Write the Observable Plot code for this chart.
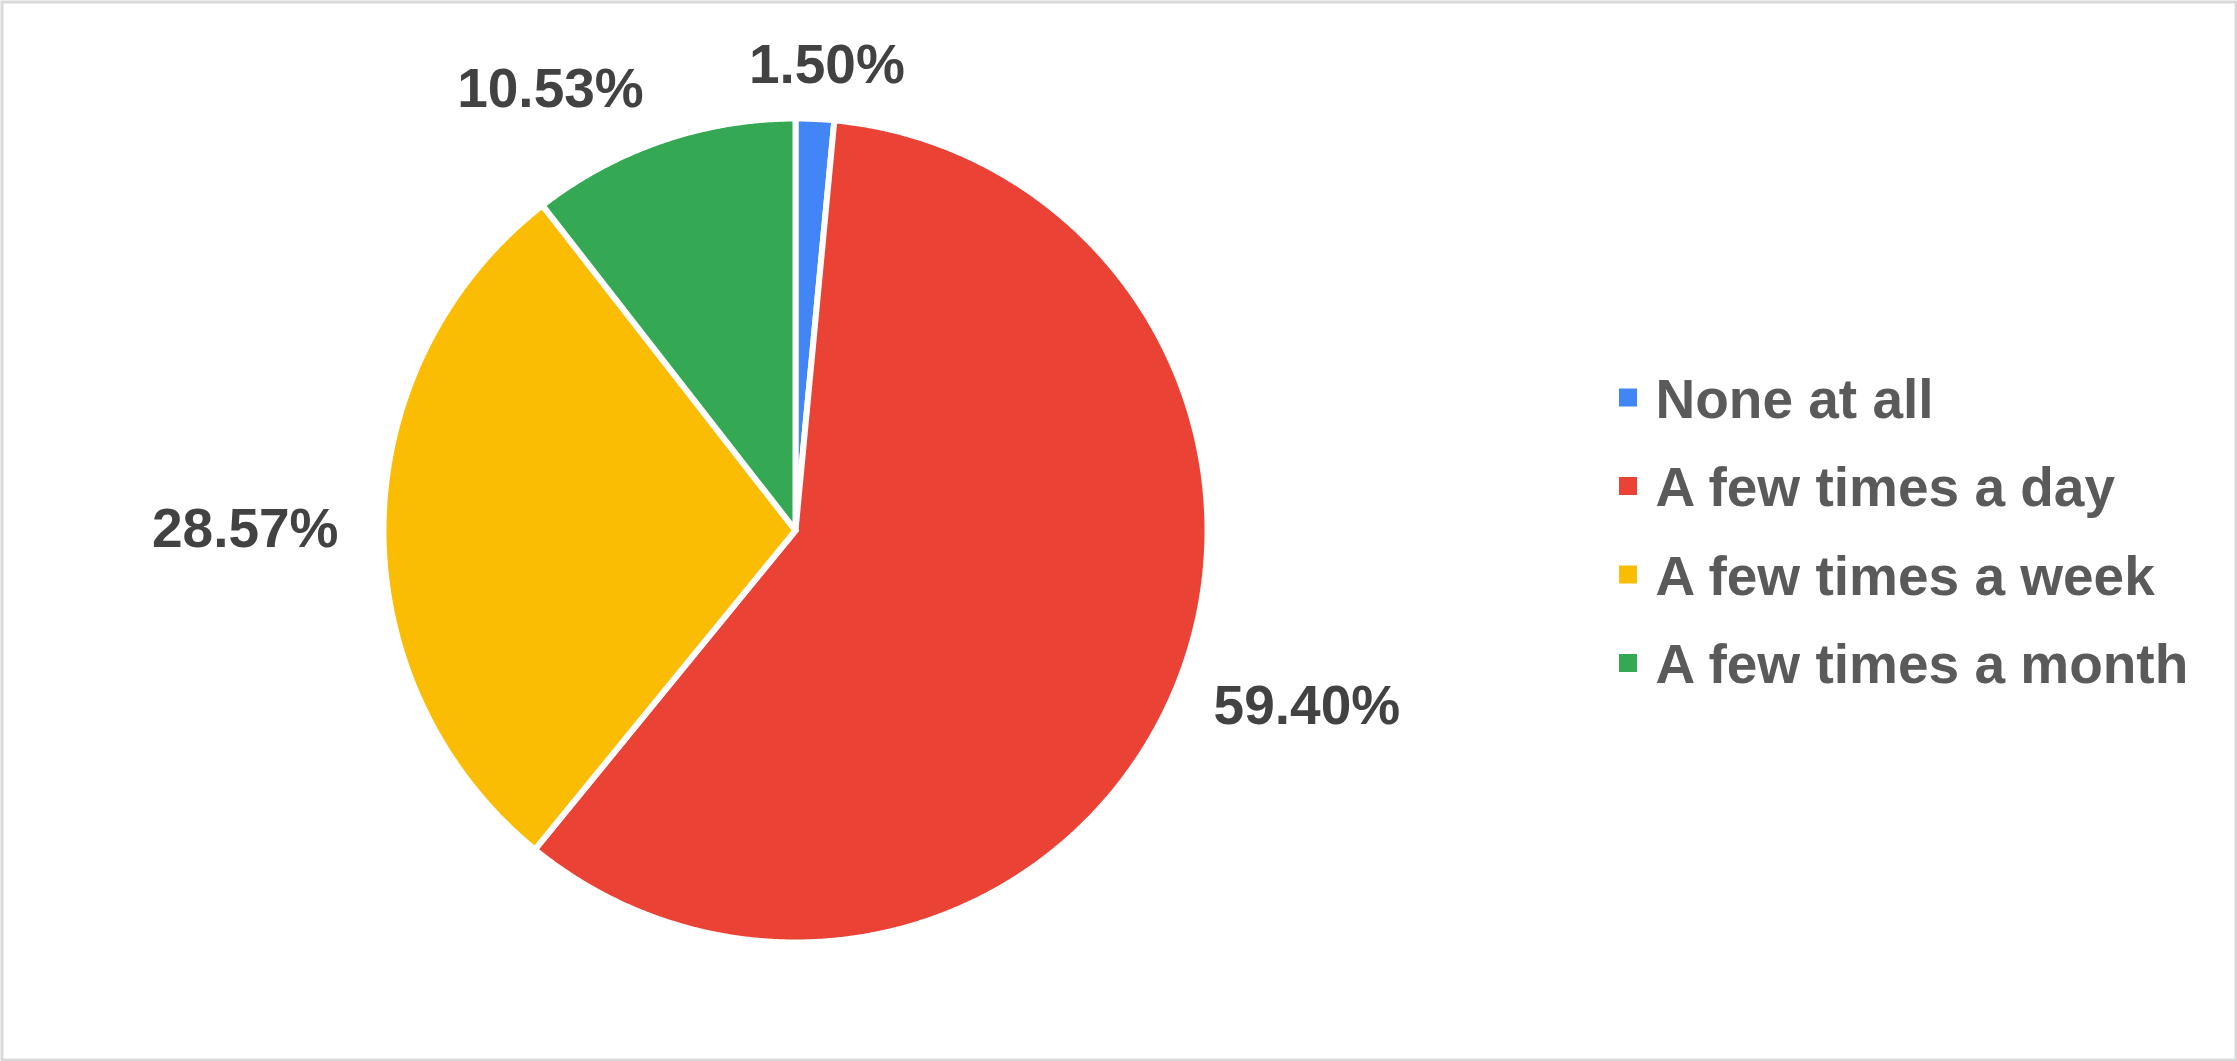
<!DOCTYPE html>
<html>
<head>
<meta charset="utf-8">
<script src="https://cdn.jsdelivr.net/npm/d3@7"></script>
<script src="https://cdn.jsdelivr.net/npm/@observablehq/plot@0.6"></script>
<style>
  html, body { margin: 0; padding: 0; background: #fff; }
  #chart svg { display: block; }
</style>
</head>
<body>
<div id="chart"></div>
<script>
// ---- data ----
const categories = ["None at all", "A few times a day", "A few times a week", "A few times a month"];
const counts = [2, 79, 38, 14];
const colors = ["#4285F4", "#EA4335", "#FBBC04", "#34A853"];

// ---- layout ----
const W = 2237, H = 1061;
const CX = 795, CY = 530, R = 412;           // pie centre / radius (px units)
const LABEL_R = 452;
const LEG_X = 1619, LEG_SQ = 18, LEG_TEXT_X = 1655, LEG_Y0 = 397.5, LEG_DY = 88.5;

const total = d3.sum(counts);
const arcs = d3.pie().sort(null).value(d => d)(counts);

// slice polygons
const slicePts = [];
arcs.forEach((a, i) => {
  const name = categories[i];
  slicePts.push({name, x: CX, y: CY});
  const n = Math.max(2, Math.ceil((a.endAngle - a.startAngle) / (Math.PI / 720)));
  for (let k = 0; k <= n; k++) {
    const t = a.startAngle + (a.endAngle - a.startAngle) * k / n;
    slicePts.push({name, x: CX + R * Math.sin(t), y: CY - R * Math.cos(t)});
  }
  slicePts.push({name, x: CX, y: CY});
});

// labels
const fmt = d3.format(".2%");
const labelData = arcs.map((a, i) => {
  const m = (a.startAngle + a.endAngle) / 2;
  const s = Math.sin(m), c = Math.cos(m);
  return {
    name: categories[i],
    text: fmt(counts[i] / total),
    x: CX + LABEL_R * s,
    y: CY - LABEL_R * c,
    ta: s > 0.2 ? "start" : s < -0.2 ? "end" : "middle",
    la: c > 0.5 ? "bottom" : c < -0.5 ? "top" : "middle"
  };
});
const combos = Array.from(new Set(labelData.map(d => d.ta + "|" + d.la)));
const labelMarks = combos.map(k => {
  const [ta, la] = k.split("|");
  return Plot.text(labelData.filter(d => d.ta === ta && d.la === la), {
    x: "x", y: "y", text: "text",
    textAnchor: ta, lineAnchor: la,
    dx: ta === "middle" ? 10 : ta === "end" ? -5 : 0,
    dy: 4,
    fill: "#424242", fontSize: 55, fontWeight: "bold",
    fontFamily: "'Liberation Sans', Arial, sans-serif"
  });
});

// legend
const legend = categories.map((name, i) => ({
  name,
  x1: LEG_X, x2: LEG_X + LEG_SQ,
  y1: LEG_Y0 + i * LEG_DY - LEG_SQ / 2, y2: LEG_Y0 + i * LEG_DY + LEG_SQ / 2,
  tx: LEG_TEXT_X, ty: LEG_Y0 + i * LEG_DY
}));

const plot = Plot.plot({
  width: W, height: H,
  margin: 0,
  x: {domain: [0, W], range: [0, W], axis: null},
  y: {domain: [0, H], range: [0, H], axis: null},
  color: {type: "ordinal", domain: categories, range: colors, legend: false},
  style: {background: "#fff"},
  marks: [
    Plot.line(slicePts, {
      x: "x", y: "y", z: "name", fill: "name",
      stroke: "#fff", strokeWidth: 6, strokeLinejoin: "round", curve: "linear"
    }),
    ...labelMarks,
    Plot.rect(legend, {x1: "x1", x2: "x2", y1: "y1", y2: "y2", fill: "name"}),
    Plot.text(legend, {
      x: "tx", y: "ty", text: "name", textAnchor: "start", lineAnchor: "middle", dy: 2,
      fill: "#5a5a5a", fontSize: 55, fontWeight: "bold",
      fontFamily: "'Liberation Sans', Arial, sans-serif"
    }),
    Plot.frame({stroke: "#d9d9d9", strokeWidth: 3, inset: 1.5})
  ]
});
document.getElementById("chart").appendChild(plot);
</script>
</body>
</html>
